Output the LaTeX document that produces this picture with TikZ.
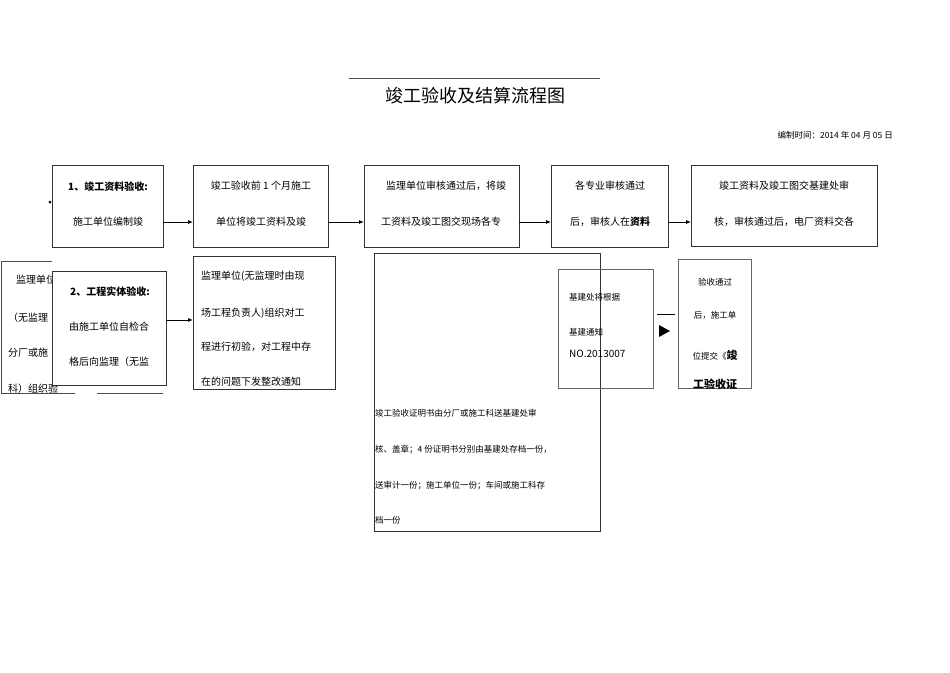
\documentclass[tikz,border=0pt]{standalone}
\usepackage{fontspec}
\setmainfont{Noto Sans CJK SC}
\usetikzlibrary{arrows.meta}
\tikzset{
  flowbox/.style={draw=black!80, fill=white, line width=0.7pt},
  flowarrow/.style={-{Latex[length=5pt,width=4pt]}, line width=0.8pt},
  txt/.style={font=\fontsize{10}{12}\selectfont, inner sep=0pt},
}
\begin{document}
\begin{tikzpicture}[x=1pt,y=-1pt]
    \useasboundingbox (0,0) rectangle (950,672);

    % Title
    \draw[black!70] (349,78) -- (600,78);
    \node[inner sep=0pt, font=\fontsize{18}{20}\selectfont] (title) at (475,96) {竣工验收及结算流程图};
    \node[txt, anchor=east, font=\fontsize{8.5}{10}\selectfont] (date) at (893,135) {编制时间：2014 年 04 月 05 日};

    % Top row
    \draw[flowbox] (52,165) rectangle (163,247);
    \node[txt, font=\fontsize{10}{12}\selectfont\bfseries] (a1t) at (108,187) {1、竣工资料验收:};
    \node[txt] (a1b) at (108,222) {施工单位编制竣};
    \fill (50,202) circle (1.5pt);
    \coordinate (a1) at (163,222);

    \draw[flowbox] (193,165) rectangle (328,247);
    \node[txt] (a2t) at (261,186) {竣工验收前 1 个月施工};
    \node[txt] (a2b) at (261,222) {单位将竣工资料及竣};
    \coordinate (a2in) at (193,222);
    \coordinate (a2out) at (328,222);

    \draw[flowbox] (364,165) rectangle (519,247);
    \node[txt] (a3t) at (446,186) {监理单位审核通过后，将竣};
    \node[txt] (a3b) at (441,222) {工资料及竣工图交现场各专};
    \coordinate (a3in) at (364,222);
    \coordinate (a3out) at (519,222);

    \draw[flowbox] (551,165) rectangle (668,247);
    \node[txt] (a4t) at (610,186) {各专业审核通过};
    \node[txt] (a4b) at (610,222) {后，审核人在\textbf{资料}};
    \coordinate (a4in) at (551,222);
    \coordinate (a4out) at (668,222);

    \draw[flowbox, line width=0.9pt] (691,165) rectangle (877,246);
    \node[txt] (a5t) at (784,186) {竣工资料及竣工图交基建处审};
    \node[txt] (a5b) at (784,222) {核，审核通过后，电厂资料交各};
    \coordinate (a5in) at (691,222);

    \draw[flowarrow] (a1) -- (a2in);
    \draw[flowarrow] (a2out) -- (a3in);
    \draw[flowarrow] (a3out) -- (a4in);
    \draw[flowarrow] (a4out) -- (a5in);

    % Left partial box
    \draw[black!70] (52,261) -- (1,261) -- (1,393) -- (75,393);
    \draw[black!70] (97,393) -- (163,393);
    \node[txt, anchor=west] (b0a) at (16,280) {监理单位};
    \node[txt, anchor=west] (b0b) at (8,318) {（无监理};
    \node[txt, anchor=west] (b0c) at (8,353) {分厂或施};
    \node[txt, anchor=west] (b0d) at (8,389) {科）组织验};

    % Second row
    \draw[flowbox] (52,271) rectangle (166,385);
    \node[txt, font=\fontsize{10}{12}\selectfont\bfseries] (b1t) at (110,292) {2、工程实体验收:};
    \node[txt] (b1m) at (109,327) {由施工单位自检合};
    \node[txt] (b1b) at (109,362) {格后向监理（无监};
    \coordinate (b1) at (166,320);

    \begin{scope}
      \clip (190,253) rectangle (340,389);
      \draw[flowbox] (193,256) rectangle (335,389);
      \node[txt, anchor=west] (b2a) at (201,276) {监理单位(无监理时由现};
      \node[txt, anchor=west] (b2b) at (201,313) {场工程负责人)组织对工};
      \node[txt, anchor=west] (b2c) at (201,347) {程进行初验，对工程中存};
      \node[txt, anchor=west] (b2d) at (201,382) {在的问题下发整改通知};
    \end{scope}
    \coordinate (b2in) at (193,320);
    \draw[flowarrow] (b1) -- (b2in);

    % Big box
    \draw[black!80, line width=0.6pt] (374,253) rectangle (600,531);
    \node[txt, anchor=west, font=\fontsize{8.5}{10}\selectfont] (c1) at (375,413) {竣工验收证明书由分厂或施工科送基建处审};
    \node[txt, anchor=west, font=\fontsize{8.5}{10}\selectfont] (c2) at (375,450) {核、盖章；4 份证明书分别由基建处存档一份，};
    \node[txt, anchor=west, font=\fontsize{8.5}{10}\selectfont] (c3) at (375,486) {送审计一份；施工单位一份；车间或施工科存};
    \node[txt, anchor=west, font=\fontsize{8.5}{10}\selectfont] (c4) at (375,520) {档一份};

    % Third group
    \draw[black!60, line width=0.5pt] (558,269) rectangle (653,388);
    \node[txt, anchor=west, font=\fontsize{8.5}{10}\selectfont] (d1) at (569,297) {基建处将根据};
    \node[txt, anchor=west, font=\fontsize{8.5}{10}\selectfont] (d2) at (569,332) {基建通知};
    \node[txt, anchor=west] (d3) at (569,354) {NO.2013007};

    \draw[line width=0.8pt] (657,314) -- (675,314);
    \fill (659,325) -- (670,331) -- (659,337) -- cycle;

    \draw[black!60, line width=0.5pt] (678,259) rectangle (751,388);
    \node[txt, font=\fontsize{8.5}{10}\selectfont] (e1) at (715,282) {验收通过};
    \node[txt, font=\fontsize{8.5}{10}\selectfont] (e2) at (715,315) {后，施工单};
    \node[txt, font=\fontsize{8.5}{10}\selectfont] (e3) at (715,355) {位提交《{\fontsize{11}{12}\selectfont\bfseries 竣}};
    \node[txt, font=\fontsize{11}{12}\selectfont\bfseries] (e4) at (715,384) {工验收证};
\end{tikzpicture}
\end{document}
